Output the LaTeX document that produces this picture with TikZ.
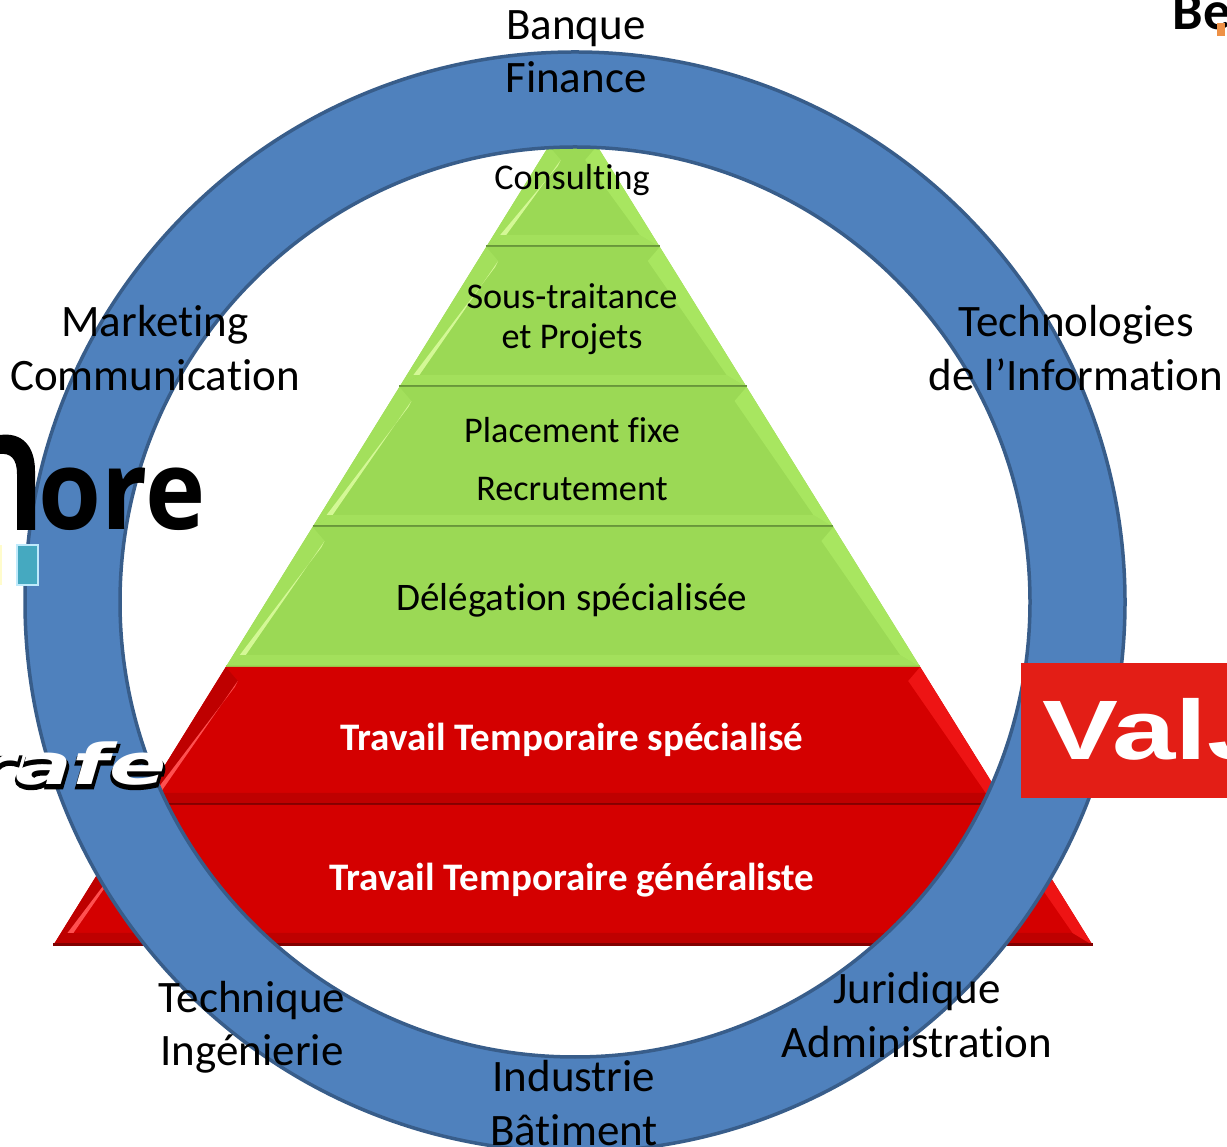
\documentclass[tikz,border=0pt]{standalone}
\usepackage{fontspec}
\setmainfont[Ligatures=CommonOff]{Carlito}
\newfontfamily\orefont{Open Sans}
\newfontfamily\valfont{Liberation Sans}
\newfontface\rafewhite{DejaVu Sans Bold Oblique}
\newfontface\rafeblack[FakeBold=5]{DejaVu Sans Bold Oblique}

\definecolor{ringblue}{RGB}{79, 129, 189}
\definecolor{ringedge}{RGB}{56, 93, 138}
\definecolor{greenbase}{RGB}{155, 217, 85}
\definecolor{greenside}{RGB}{168, 230, 96}
\definecolor{greenglow}{RGB}{212, 248, 150}
\definecolor{greenline}{RGB}{104, 150, 58}
\definecolor{greenband}{RGB}{163, 224, 92}
\definecolor{redbase}{RGB}{212, 0, 0}
\definecolor{redside}{RGB}{238, 20, 20}
\definecolor{redglow}{RGB}{255, 80, 80}
\definecolor{redline}{RGB}{130, 0, 0}
\definecolor{redband}{RGB}{190, 0, 0}
\definecolor{valred}{RGB}{227, 30, 22}
\definecolor{oreteal}{RGB}{69, 169, 192}
\definecolor{belorange}{RGB}{238, 145, 70}

\tikzset{
    sector/.style={font=\fontsize{12.8}{15.2}\selectfont, align=center, text=black},
    level/.style={font=\fontsize{10.3}{11.4}\selectfont, align=center, text=black},
    redlevel/.style={font=\fontsize{11.1}{12}\selectfont\bfseries, text=white},
    ring/.style={fill=ringblue, draw=ringedge, line width=0.035cm, even odd rule}
}

\begin{document}
\begin{tikzpicture}

        \useasboundingbox (0, 0) rectangle (12.27, 11.46);
        \clip (0, 0) rectangle (12.27, 11.46);

        % pyramid layers, top to bottom
        \foreach \yb/\yt/\cbase/\cside/\cglow/\cband/\cedge in {
            8.99/10.00/greenbase/greenside/greenglow/greenband/greenline,
            7.59/8.99/greenbase/greenside/greenglow/greenband/greenline,
            6.19/7.59/greenbase/greenside/greenglow/greenband/greenline,
            4.79/6.19/greenbase/greenside/greenglow/greenband/greenbase,
            3.41/4.79/redbase/redside/redglow/redband/redline,
            2.01/3.41/redbase/redside/redglow/redband/redline} {
            \pgfmathsetmacro{\hbot}{0.62*(10.39-\yb)}
            \pgfmathsetmacro{\htop}{0.62*(10.39-\yt)}
            \fill[\cbase] (5.73-\hbot, \yb) -- (5.73+\hbot, \yb) -- (5.73+\htop, \yt) -- (5.73-\htop, \yt) -- cycle;
            \fill[\cband] (5.73-\hbot, \yb) -- (5.73+\hbot, \yb) -- (5.73+\hbot-0.2, \yb+0.12) -- (5.73-\hbot+0.2, \yb+0.12) -- cycle;
            % side bevels
            \fill[\cband] (5.73-\hbot, \yb) -- (5.73-\htop, \yt) -- (5.73-\htop+0.12, \yt-0.14) -- (5.73-\hbot+0.2, \yb+0.12) -- cycle;
            \fill[\cside] (5.73+\hbot, \yb) -- (5.73+\htop, \yt) -- (5.73+\htop-0.12, \yt-0.14) -- (5.73+\hbot-0.2, \yb+0.12) -- cycle;
            \fill[\cglow] (5.73-\hbot+0.2, \yb+0.12) -- (5.73-\htop+0.12, \yt-0.14) -- (5.73-\htop+0.09, \yt-0.2) -- (5.73-\hbot+0.14, \yb+0.12) -- cycle;
            \draw[\cedge, line width=0.03cm] (5.73-\hbot, \yb) -- (5.73+\hbot, \yb);
        }

        % blue ring
        \draw[ring] (5.75, 5.44) circle (5.5) (5.75, 5.44) circle (4.55);

        % logos cut by the page
        \fill (0, 7.11) .. controls (0.22, 7.14) and (0.35, 7.0) .. (0.35, 6.75) -- (0.35, 6.16) -- (0.17, 6.16) -- (0.17, 6.72) .. controls (0.17, 6.88) and (0.1, 6.93) .. (0, 6.92) -- cycle;
        \node[anchor=base west, inner sep=0, xscale=0.92, transform shape] (ore) at (0.38, 6.16) {\fontsize{31.5}{32}\selectfont\orefont\bfseries ore};
        \fill[white!80!yellow] (0, 5.61) rectangle (0.02, 6.01);
        \draw[white!75!cyan, fill=oreteal, line width=0.015cm] (0.17, 5.61) rectangle (0.38, 6.01);
        \node[anchor=base west, inner sep=0, xscale=1.5, transform shape, text=black] (rafeback) at (-0.27, 3.58) {\fontsize{16}{16}\selectfont\rafeblack rafe};
        \node[anchor=base west, inner sep=0, xscale=1.5, transform shape, text=white] (rafe) at (-0.27, 3.61) {\fontsize{16}{16}\selectfont\rafewhite rafe};
        \fill[valred] (10.21, 3.48) rectangle (12.27, 4.83);
        \node[anchor=base west, inner sep=0, xscale=1.35, transform shape, text=white] (val) at (10.42, 3.86) {\fontsize{24}{24}\selectfont\valfont\bfseries ValJ};
        \node[anchor=base west, inner sep=0] (bel) at (11.72, 11.16) {\fontsize{15.5}{16}\selectfont\bfseries Bel};
        \fill[belorange] (12.17, 11.10) rectangle (12.25, 11.23);

        % texts on the pyramid
        \node[level] (consulting) at (5.72, 9.66) {Consulting};
        \node[level] (soustraitance) at (5.72, 8.27) {Sous-traitance\\et Projets};
        \node[level, font=\fontsize{10.3}{16.4}\selectfont] (placement) at (5.72, 6.87) {Placement fixe\\Recrutement};
        \node[level, font=\fontsize{11.1}{12}\selectfont] (delegation) at (5.72, 5.46) {Délégation spécialisée};
        \node[redlevel] (specialise) at (5.72, 4.06) {Travail Temporaire spécialisé};
        \node[redlevel] (generaliste) at (5.72, 2.66) {Travail Temporaire généraliste};

        % sectors round the ring
        \node[sector] (banque) at (5.76, 10.94) {Banque\\Finance};
        \node[sector] (marketing) at (1.55, 7.98) {Marketing\\Communication};
        \node[sector] (techno) at (10.76, 7.98) {Technologies\\de l’Information};
        \node[sector] (technique) at (2.52, 1.185) {Technique\\Ingénierie};
        \node[sector] (juridique) at (9.17, 1.31) {Juridique\\Administration};
        \node[sector] (industrie) at (5.74, 0.43) {Industrie\\Bâtiment};

    \end{tikzpicture}
\end{document}
